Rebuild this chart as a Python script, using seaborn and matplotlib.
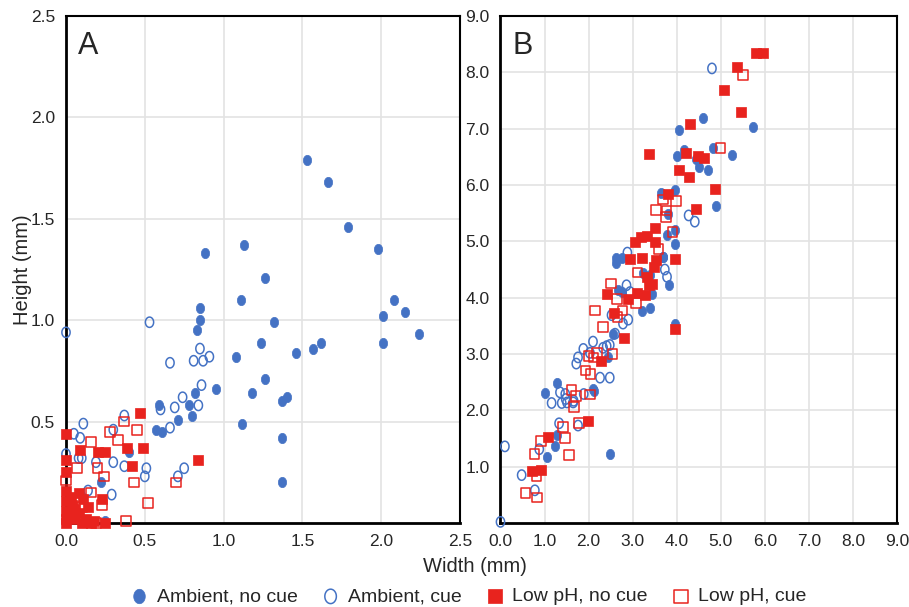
import numpy as np
import pandas as pd
import seaborn as sns
import matplotlib.pyplot as plt
from matplotlib.path import Path

# Panel A data (width, height in mm)
a_amb_nocue_w = [1.53, 1.66, 1.79, 1.98, 1.13, 0.88, 1.26, 1.11, 0.85, 0.85, 0.83, 1.32, 1.24,
                 2.08, 2.15, 2.01, 2.24, 2.01, 1.62, 1.57, 1.46, 1.08, 0.95, 0.82, 0.78, 0.80,
                 0.71, 0.59, 0.57, 0.61, 1.26, 1.18, 1.37, 1.40, 1.12, 1.37, 1.37, 0.40, 0.22, 0.25]
a_amb_nocue_h = [1.79, 1.68, 1.46, 1.35, 1.37, 1.33, 1.21, 1.10, 1.06, 1.00, 0.95, 0.99, 0.89,
                 1.10, 1.04, 1.02, 0.93, 0.89, 0.89, 0.86, 0.84, 0.82, 0.66, 0.64, 0.58, 0.53,
                 0.51, 0.58, 0.46, 0.45, 0.71, 0.64, 0.60, 0.62, 0.49, 0.42, 0.20, 0.35, 0.20, 0.01]

a_amb_cue_w = [0.00, 0.53, 0.66, 0.85, 0.81, 0.87, 0.91, 0.86, 0.74, 0.69, 0.84, 0.60, 0.66,
               0.51, 0.50, 0.75, 0.71, 0.11, 0.05, 0.09, 0.37, 0.30, 0.08, 0.10, 0.00, 0.19,
               0.30, 0.37, 0.14, 0.29]
a_amb_cue_h = [0.94, 0.99, 0.79, 0.86, 0.80, 0.80, 0.82, 0.68, 0.62, 0.57, 0.58, 0.56, 0.47,
               0.27, 0.23, 0.27, 0.23, 0.49, 0.44, 0.42, 0.53, 0.46, 0.32, 0.32, 0.34, 0.30,
               0.30, 0.28, 0.16, 0.14]

a_low_nocue_w = [0.47, 0.49, 0.42, 0.84, 0.00, 0.09, 0.20, 0.25, 0.39, 0.00, 0.00, 0.23,
                 0.00, 0.08, 0.00, 0.04, 0.14, 0.00, 0.08, 0.00, 0.05, 0.13, 0.18, 0.25,
                 0.00, 0.10, 0.16, 0.03, 0.11, 0.03, 0.06]
a_low_nocue_h = [0.54, 0.37, 0.28, 0.31, 0.44, 0.36, 0.35, 0.35, 0.37, 0.31, 0.25, 0.12,
                 0.16, 0.15, 0.11, 0.09, 0.08, 0.06, 0.05, 0.02, 0.02, 0.02, 0.01, 0.00,
                 0.00, 0.00, 0.00, 0.13, 0.12, 0.04, 0.07]

a_low_cue_w = [0.45, 0.43, 0.70, 0.52, 0.28, 0.37, 0.33, 0.16, 0.07, 0.20, 0.24, 0.00,
               0.16, 0.23, 0.38, 0.10, 0.19]
a_low_cue_h = [0.46, 0.20, 0.20, 0.10, 0.45, 0.50, 0.41, 0.40, 0.27, 0.27, 0.23, 0.21,
               0.15, 0.09, 0.01, 0.08, 0.00]

# Panel B data
b_amb_nocue_w = [4.60, 4.05, 5.73, 4.01, 4.16, 4.43, 4.51, 4.71, 4.83, 5.26, 3.97, 3.64, 4.90,
                 3.81, 3.97, 3.77, 3.97, 3.68, 2.63, 2.63, 2.75, 3.24, 3.39, 3.82, 3.22, 3.39,
                 2.67, 3.69, 2.75, 3.43, 2.56, 2.44, 2.10, 3.96, 2.12, 1.28, 1.02, 1.29, 1.23,
                 1.06, 2.48]
b_amb_nocue_h = [7.19, 6.98, 7.03, 6.52, 6.62, 6.46, 6.32, 6.26, 6.65, 6.53, 5.91, 5.86, 5.62,
                 5.48, 5.21, 5.12, 4.95, 4.73, 4.71, 4.62, 4.71, 4.43, 4.40, 4.22, 3.76, 3.82,
                 4.13, 4.73, 4.10, 4.07, 3.36, 2.94, 2.38, 3.54, 2.35, 2.48, 2.30, 1.56, 1.37,
                 1.18, 1.22]

b_amb_cue_w = [4.80, 4.27, 4.41, 2.88, 3.73, 3.78, 2.86, 2.52, 2.90, 2.78, 2.60, 2.10, 1.88,
               1.76, 1.72, 2.03, 2.33, 2.48, 2.26, 2.48, 1.35, 1.48, 1.65, 1.16, 1.39, 1.51,
               1.47, 1.66, 1.89, 1.76, 1.33, 0.88, 0.78, 0.48, 0.10, 0.00, 2.41, 2.94]
b_amb_cue_h = [8.07, 5.46, 5.35, 4.80, 4.50, 4.37, 4.22, 3.69, 3.61, 3.54, 3.36, 3.22, 3.09,
               2.94, 2.83, 3.02, 3.11, 3.16, 2.58, 2.58, 2.32, 2.20, 2.14, 2.13, 2.13, 2.14,
               2.29, 2.17, 2.29, 1.73, 1.77, 1.31, 0.58, 0.85, 1.36, 0.02, 3.14, 4.10]

b_low_nocue_w = [5.81, 5.95, 5.36, 5.08, 5.45, 4.31, 3.37, 4.22, 4.49, 4.61, 4.05, 4.29, 4.86,
                 3.81, 4.43, 3.50, 3.05, 3.20, 3.32, 3.50, 2.94, 3.22, 3.54, 3.96, 3.48, 3.33,
                 3.44, 3.36, 2.41, 2.90, 3.10, 3.28, 2.58, 2.80, 2.29, 3.96, 1.08, 1.98, 0.72,
                 0.93]
b_low_nocue_h = [8.35, 8.35, 8.10, 7.68, 7.30, 7.09, 6.55, 6.57, 6.51, 6.48, 6.26, 6.14, 5.93,
                 5.84, 5.58, 5.24, 4.98, 5.08, 5.09, 4.98, 4.68, 4.71, 4.67, 4.68, 4.55, 4.37,
                 4.25, 4.22, 4.06, 3.98, 4.09, 4.04, 3.73, 3.28, 2.87, 3.45, 1.53, 1.81, 0.92,
                 0.94]

b_low_cue_w = [5.51, 4.99, 3.69, 3.99, 3.53, 3.77, 3.76, 3.90, 3.59, 3.11, 2.51, 2.65, 3.07,
               2.14, 2.77, 2.66, 2.33, 2.00, 2.11, 2.54, 1.93, 2.04, 2.19, 1.61, 1.72, 2.03,
               1.67, 1.78, 1.42, 1.46, 1.55, 0.92, 0.77, 0.82, 0.57, 0.83]
b_low_cue_h = [7.95, 6.66, 5.74, 5.72, 5.56, 5.55, 5.43, 5.17, 4.86, 4.45, 4.25, 3.98, 3.91,
               3.77, 3.77, 3.66, 3.48, 2.96, 2.94, 3.00, 2.71, 2.65, 3.02, 2.36, 2.25, 2.28,
               2.06, 1.77, 1.70, 1.51, 1.21, 1.46, 1.23, 0.83, 0.53, 0.45]

groups = ['Ambient, no cue', 'Ambient, cue', 'Low pH, no cue', 'Low pH, cue']


def make_df(series):
    frames = []
    for name, (w, h) in zip(groups, series):
        frames.append(pd.DataFrame({'Width': w, 'Height': h, 'Group': name}))
    return pd.concat(frames, ignore_index=True)


df_a = make_df([(a_amb_nocue_w, a_amb_nocue_h), (a_amb_cue_w, a_amb_cue_h),
                (a_low_nocue_w, a_low_nocue_h), (a_low_cue_w, a_low_cue_h)])
df_b = make_df([(b_amb_nocue_w, b_amb_nocue_h), (b_amb_cue_w, b_amb_cue_h),
                (b_low_nocue_w, b_low_nocue_h), (b_low_cue_w, b_low_cue_h)])

# style setup
sns.set_style('white')
plt.rcParams['font.family'] = ['Liberation Sans', 'DejaVu Sans']

blue = '#4472C4'
red = '#E8231E'
t = np.linspace(0, 2 * np.pi, 60)
ellipse = Path(np.column_stack([0.8 * np.cos(t), np.sin(t)]), closed=True)

styles = {
    'Ambient, no cue': dict(marker=ellipse, color=blue, edgecolor=blue, linewidth=0.5, s=55),
    'Ambient, cue': dict(marker=ellipse, color=blue, facecolor='none', edgecolor=blue, linewidth=1.1, s=55),
    'Low pH, no cue': dict(marker='s', color=red, edgecolor=red, linewidth=0.5, s=48),
    'Low pH, cue': dict(marker='s', color=red, facecolor='none', edgecolor=red, linewidth=1.1, s=48),
}

fig = plt.figure(figsize=(9.09, 6.07), dpi=100)
ax_a = fig.add_axes([0.0726, 0.1384, 0.4334, 0.8352])
ax_b = fig.add_axes([0.5506, 0.1384, 0.4362, 0.8352])

for ax, df in [(ax_a, df_a), (ax_b, df_b)]:
    for g in groups:
        sns.scatterplot(data=df[df['Group'] == g], x='Width', y='Height', ax=ax,
                        label=g, legend=False, zorder=3, clip_on=False, **styles[g])
    ax.grid(True, color='#e3e3e3', linewidth=1.2, zorder=0)
    ax.set_axisbelow(True)
    ax.set_xlabel('')
    ax.set_ylabel('')
    ax.tick_params(length=0, labelsize=12.5, pad=8)
    for side in ['top', 'right']:
        ax.spines[side].set_linewidth(1.5)
        ax.spines[side].set_color('black')
    for side in ['left', 'bottom']:
        ax.spines[side].set_linewidth(2)
        ax.spines[side].set_color('black')

ax_a.set_xlim(0, 2.5)
ax_a.set_ylim(0, 2.5)
ax_a.set_xticks([0, 0.5, 1.0, 1.5, 2.0, 2.5])
ax_a.set_xticklabels(['0.0', '0.5', '1.0', '1.5', '2.0', '2.5'])
ax_a.set_yticks([0.5, 1.0, 1.5, 2.0, 2.5])
ax_a.set_yticklabels(['0.5', '1.0', '1.5', '2.0', '2.5'])

ax_b.set_xlim(0, 9)
ax_b.set_ylim(0, 9)
ax_b.set_xticks(range(0, 10))
ax_b.set_xticklabels([f'{v:.1f}' for v in range(0, 10)])
ax_b.set_yticks(range(1, 10))
ax_b.set_yticklabels([f'{v:.1f}' for v in range(1, 10)])

ax_a.text(0.03, 0.97, 'A', transform=ax_a.transAxes, fontsize=22, va='top', ha='left')
ax_b.text(0.03, 0.97, 'B', transform=ax_b.transAxes, fontsize=22, va='top', ha='left')

fig.text(0.025, 0.555, 'Height (mm)', rotation=90, fontsize=14.5, ha='center', va='center')
fig.text(0.523, 0.066, 'Width (mm)', fontsize=14.5, ha='center', va='center')

handles, labels = ax_a.get_legend_handles_labels()
fig.legend(handles, labels, loc='center', bbox_to_anchor=(0.515, 0.017), ncol=4,
           frameon=False, fontsize=14, markerscale=1.4, handlelength=1.0,
           handletextpad=0.4, columnspacing=1.2, borderaxespad=0)

plt.savefig('out.png', dpi=100)
plt.close()
